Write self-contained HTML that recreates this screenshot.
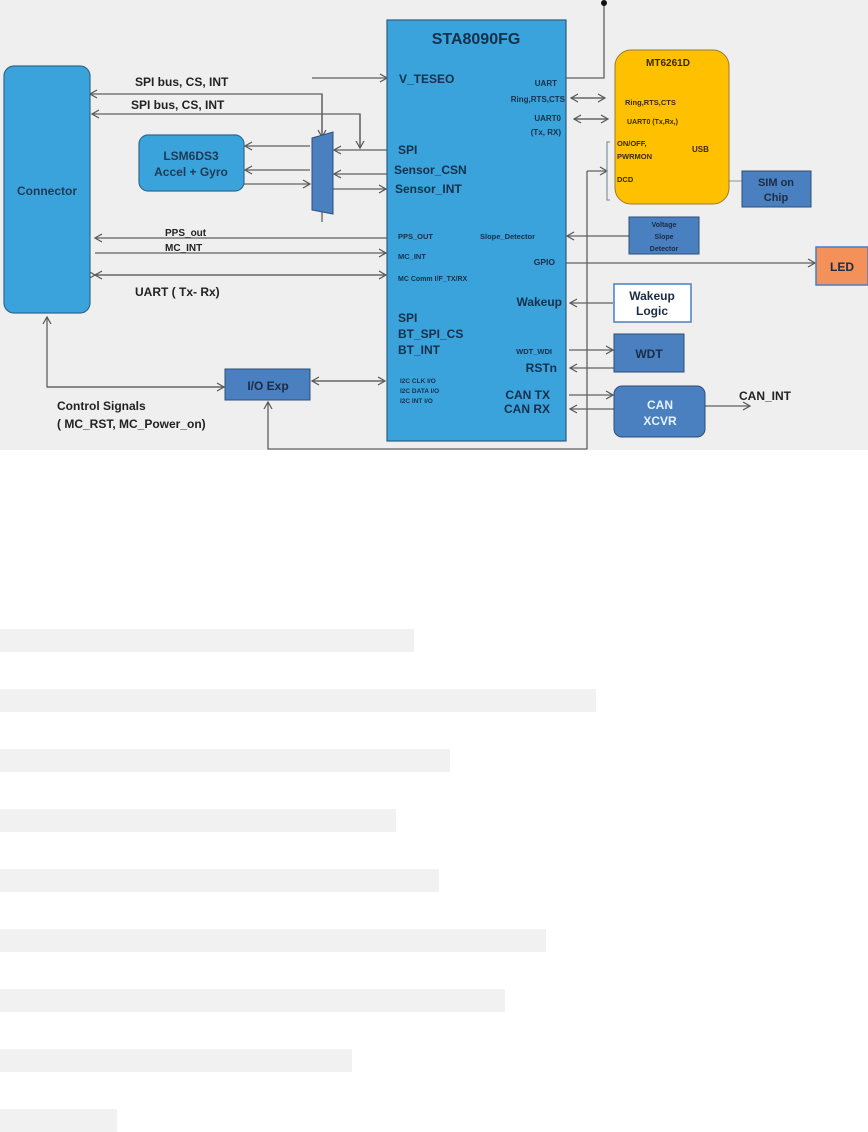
<!DOCTYPE html>
<html><head><meta charset="utf-8"><style>
html,body{margin:0;padding:0;background:#fff;width:868px;height:1131px;overflow:hidden}
.bar{position:absolute;left:0;height:23px;background:#f1f1f1}
svg text{font-family:"Liberation Sans",sans-serif;font-weight:bold}
</style></head><body>
<svg width="868" height="450" style="position:absolute;left:0;top:0" xmlns="http://www.w3.org/2000/svg">
<defs>
<marker id="a" markerWidth="10" markerHeight="10" refX="8" refY="5" orient="auto" markerUnits="userSpaceOnUse"><path d="M1,1 L8,5 L1,9" fill="none" stroke="#555" stroke-width="1.2"/></marker>
</defs>
<rect x="0" y="0" width="868" height="450" fill="#efefef"/>
<g stroke="#606060" stroke-width="1.3" fill="none">
<!-- SPI buses -->
<path d="M322,137 L322,94 L90,94" marker-end="url(#a)"/>
<path d="M322,94 L322,137" marker-end="url(#a)"/>
<path d="M360,148 L360,114 L92,114" marker-end="url(#a)"/>
<path d="M360,114 L360,148" marker-end="url(#a)"/>
<path d="M312,78 L387,78" marker-end="url(#a)"/>
<path d="M310,146 L245,146" marker-end="url(#a)"/>
<path d="M310,170 L245,170" marker-end="url(#a)"/>
<path d="M244,184 L310,184" marker-end="url(#a)"/>
<path d="M387,150 L334,150" marker-end="url(#a)"/>
<path d="M387,174 L334,174" marker-end="url(#a)"/>
<path d="M333,189 L386,189" marker-end="url(#a)"/>
<path d="M322,212 L322,222"/>
<path d="M387,238 L95,238" marker-end="url(#a)"/>
<path d="M95,253 L386,253" marker-end="url(#a)"/>
<path d="M95,275 L386,275" marker-end="url(#a)" marker-start="url(#a)"/>
<path d="M386,275 L95,275" marker-end="url(#a)"/>
<path d="M225,387 L47,387 L47,317" marker-end="url(#a)"/>
<path d="M47,387 L224,387" marker-end="url(#a)"/>
<path d="M312,381 L385,381" marker-end="url(#a)"/>
<path d="M385,381 L312,381" marker-end="url(#a)"/>
<path d="M587,171 L587,449 L268,449 L268,402" marker-end="url(#a)"/>
<path d="M587,171 L607,171" marker-end="url(#a)"/>
<path d="M566,78 L604,78 L604,3"/>
<path d="M571,98 L605,98" marker-end="url(#a)"/>
<path d="M605,98 L571,98" marker-end="url(#a)"/>
<path d="M574,119 L608,119" marker-end="url(#a)"/>
<path d="M608,119 L574,119" marker-end="url(#a)"/>
<path d="M610,142 L607,142 L607,200 L610,200" stroke="#8899aa"/>
<path d="M729,181 L742,181" stroke="#9ab"/>
<path d="M629,236 L567,236" marker-end="url(#a)"/>
<path d="M566,263 L815,263" marker-end="url(#a)"/>
<path d="M613,303 L570,303" marker-end="url(#a)"/>
<path d="M569,350 L613,350" marker-end="url(#a)"/>
<path d="M614,368 L570,368" marker-end="url(#a)"/>
<path d="M569,395 L613,395" marker-end="url(#a)"/>
<path d="M614,409 L570,409" marker-end="url(#a)"/>
<path d="M705,406 L750,406" marker-end="url(#a)"/>
</g>
<circle cx="604" cy="3" r="3" fill="#111"/>
<!-- boxes -->
<rect x="4" y="66" width="86" height="247" rx="10" fill="#3aa3dc" stroke="#2d6a90" stroke-width="1.2"/>
<text x="47" y="195" font-size="12" fill="#1e3a55" text-anchor="middle">Connector</text>
<rect x="139" y="135" width="105" height="56" rx="9" fill="#3aa3dc" stroke="#2d6a90" stroke-width="1.2"/>
<text x="191" y="160" font-size="12" fill="#1e3a55" text-anchor="middle">LSM6DS3</text>
<text x="191" y="176" font-size="12" fill="#1e3a55" text-anchor="middle">Accel + Gyro</text>
<path d="M312,138 L333,132 L333,214 L312,210 Z" fill="#4a7fc0" stroke="#2d4f7a" stroke-width="1"/>
<rect x="225" y="369" width="85" height="31" fill="#4a7fc0" stroke="#2d4f7a" stroke-width="1"/>
<text x="268" y="390" font-size="12" fill="#1b2c44" text-anchor="middle">I/O Exp</text>
<rect x="387" y="20" width="179" height="421" fill="#3aa3dc" stroke="#2d5f80" stroke-width="1.2"/>
<rect x="615" y="50" width="114" height="154" rx="16" fill="#ffc000" stroke="#9a7a30" stroke-width="1"/>
<rect x="742" y="171" width="69" height="36" fill="#4a7fc0" stroke="#2d4f7a"/>
<rect x="629" y="217" width="70" height="37" fill="#4a7fc0" stroke="#2d4f7a"/>
<rect x="816" y="247" width="52" height="38" fill="#f4905a" stroke="#4a7fc0" stroke-width="1.5"/>
<rect x="614" y="284" width="77" height="38" fill="#fff" stroke="#4a7fc0" stroke-width="1.5"/>
<rect x="614" y="334" width="70" height="38" fill="#4a7fc0" stroke="#2d4f7a"/>
<rect x="614" y="386" width="91" height="51" rx="8" fill="#4a7fc0" stroke="#2d4f7a"/>
<!-- left labels -->
<g fill="#222">
<text x="135" y="86" font-size="12">SPI bus, CS, INT</text>
<text x="131" y="109" font-size="12">SPI bus, CS, INT</text>
<text x="165" y="236" font-size="10">PPS_out</text>
<text x="165" y="251" font-size="10">MC_INT</text>
<text x="135" y="296" font-size="12">UART ( Tx- Rx)</text>
<text x="57" y="410" font-size="12">Control Signals</text>
<text x="57" y="428" font-size="12">( MC_RST, MC_Power_on)</text>
<text x="739" y="400" font-size="12">CAN_INT</text>
</g>
<!-- STA text -->
<g fill="#16304a">
<text x="476" y="44" font-size="16" text-anchor="middle">STA8090FG</text>
<text x="399" y="83" font-size="12">V_TESEO</text>
<text x="557" y="86" font-size="8" text-anchor="end">UART</text>
<text x="565" y="102" font-size="8" text-anchor="end">Ring,RTS,CTS</text>
<text x="561" y="121" font-size="8" text-anchor="end">UART0</text>
<text x="561" y="135" font-size="8" text-anchor="end">(Tx, RX)</text>
<text x="398" y="154" font-size="12">SPI</text>
<text x="394" y="174" font-size="12">Sensor_CSN</text>
<text x="395" y="193" font-size="12">Sensor_INT</text>
<text x="398" y="239" font-size="7.5">PPS_OUT</text>
<text x="480" y="239" font-size="7.5">Slope_Detector</text>
<text x="398" y="259" font-size="7.5">MC_INT</text>
<text x="555" y="265" font-size="8.5" text-anchor="end">GPIO</text>
<text x="398" y="281" font-size="7">MC Comm I/F_TX/RX</text>
<text x="562" y="306" font-size="12" text-anchor="end">Wakeup</text>
<text x="398" y="322" font-size="12">SPI</text>
<text x="398" y="338" font-size="12">BT_SPI_CS</text>
<text x="398" y="354" font-size="12">BT_INT</text>
<text x="552" y="354" font-size="7.5" text-anchor="end">WDT_WDI</text>
<text x="557" y="372" font-size="12" text-anchor="end">RSTn</text>
<text x="400" y="383" font-size="6.5">I2C CLK I/O</text>
<text x="400" y="393" font-size="6.5">I2C DATA I/O</text>
<text x="400" y="403" font-size="6.5">I2C INT I/O</text>
<text x="550" y="399" font-size="12" text-anchor="end">CAN TX</text>
<text x="550" y="413" font-size="12" text-anchor="end">CAN RX</text>
</g>
<g fill="#3a2a00">
<text x="668" y="66" font-size="10" text-anchor="middle">MT6261D</text>
<text x="625" y="105" font-size="7.5">Ring,RTS,CTS</text>
<text x="627" y="124" font-size="7">UART0 (Tx,Rx,)</text>
<text x="617" y="146" font-size="7.5">ON/OFF,</text>
<text x="617" y="159" font-size="7.5">PWRMON</text>
<text x="692" y="152" font-size="8">USB</text>
<text x="617" y="182" font-size="7.5">DCD</text>
</g>
<g fill="#1b2c44" text-anchor="middle">
<text x="776" y="186" font-size="11">SIM on</text>
<text x="776" y="201" font-size="11">Chip</text>
<text x="664" y="227" font-size="7">Voltage</text>
<text x="664" y="239" font-size="7">Slope</text>
<text x="664" y="251" font-size="7">Detector</text>
<text x="842" y="271" font-size="12">LED</text>
<text x="652" y="300" font-size="12">Wakeup</text>
<text x="652" y="315" font-size="12">Logic</text>
<text x="649" y="358" font-size="12">WDT</text>
</g>
<g fill="#e8f2ff" text-anchor="middle">
<text x="660" y="409" font-size="12">CAN</text>
<text x="660" y="425" font-size="12">XCVR</text>
</g>
</svg>
<div class="bar" style="top:629px;width:414px"></div>
<div class="bar" style="top:689px;width:596px"></div>
<div class="bar" style="top:749px;width:450px"></div>
<div class="bar" style="top:809px;width:396px"></div>
<div class="bar" style="top:869px;width:439px"></div>
<div class="bar" style="top:929px;width:546px"></div>
<div class="bar" style="top:989px;width:505px"></div>
<div class="bar" style="top:1049px;width:352px"></div>
<div class="bar" style="top:1109px;width:117px"></div>
</body></html>
